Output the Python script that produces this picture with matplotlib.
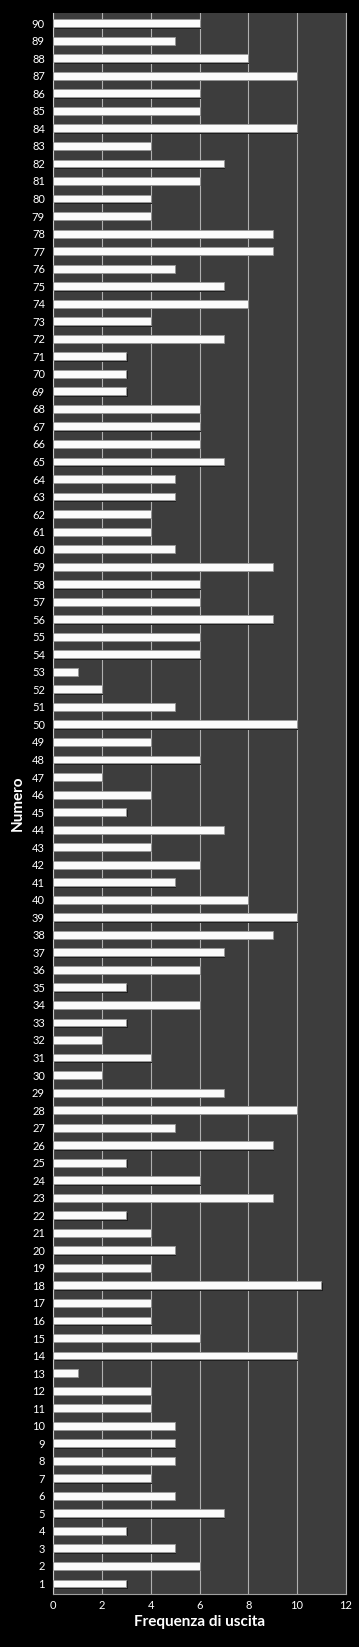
import numpy as np
import matplotlib
matplotlib.use('Agg')
import matplotlib.pyplot as plt

# --- Data: frequency of each number (1..90) ---
numeri = list(range(1, 91))
frequenze = [3, 6, 5, 3, 7, 5, 4, 5, 5, 5,
             4, 4, 1, 10, 6, 4, 4, 11, 4, 5,
             4, 3, 9, 6, 3, 9, 5, 10, 7, 2,
             4, 2, 3, 6, 3, 6, 7, 9, 10, 8,
             5, 6, 4, 7, 3, 4, 2, 6, 4, 10,
             5, 2, 1, 6, 6, 9, 6, 6, 9, 5,
             4, 4, 5, 5, 7, 6, 6, 6, 3, 3,
             3, 7, 4, 8, 7, 5, 9, 9, 4, 4,
             6, 7, 4, 10, 6, 6, 10, 8, 5, 6]
x_ticks = [0, 2, 4, 6, 8, 10, 12]

plt.rcParams['font.family'] = ['Lato', 'DejaVu Sans']

fig = plt.figure(figsize=(3.59, 16.47), dpi=100, facecolor='black')
ax = fig.add_axes([0.1485, 0.0322, 0.8145, 0.9601])
ax.set_facecolor('#3d3d3d')

# shadow under bars, then the white bars
ax.barh(np.array(numeri) - 0.08, frequenze, height=0.45, left=0.05,
        color='#1e1e1e', zorder=2)
ax.barh(numeri, frequenze, height=0.45, color='#fbfbfb',
        edgecolor='#9a9a9a', linewidth=0.6, zorder=3)

ax.set_xlim(0, 12)
ax.set_ylim(0.4, 90.6)
ax.set_xticks(x_ticks)
ax.set_yticks(numeri)
ax.set_yticklabels([str(n) for n in numeri])
ax.grid(axis='x', color='#b0b0b0', linewidth=0.8, zorder=1)
ax.set_axisbelow(True)

for s in ['top']:
    ax.spines[s].set_visible(False)
ax.spines['right'].set_color('#b0b0b0')
ax.spines['right'].set_linewidth(0.8)
ax.spines['left'].set_color('#c8c8c8')
ax.spines['bottom'].set_color('#a0a0a0')
ax.tick_params(colors='white', labelsize=8, length=0, pad=4)
ax.tick_params(axis='y', pad=6)

ax.set_xlabel('Frequenza di uscita', color='white', fontsize=11,
              fontweight='bold', labelpad=3)
ax.set_ylabel('Numero', color='white', fontsize=11, fontweight='bold',
              labelpad=5)

fig.savefig('out.png', dpi=100, facecolor='black')
